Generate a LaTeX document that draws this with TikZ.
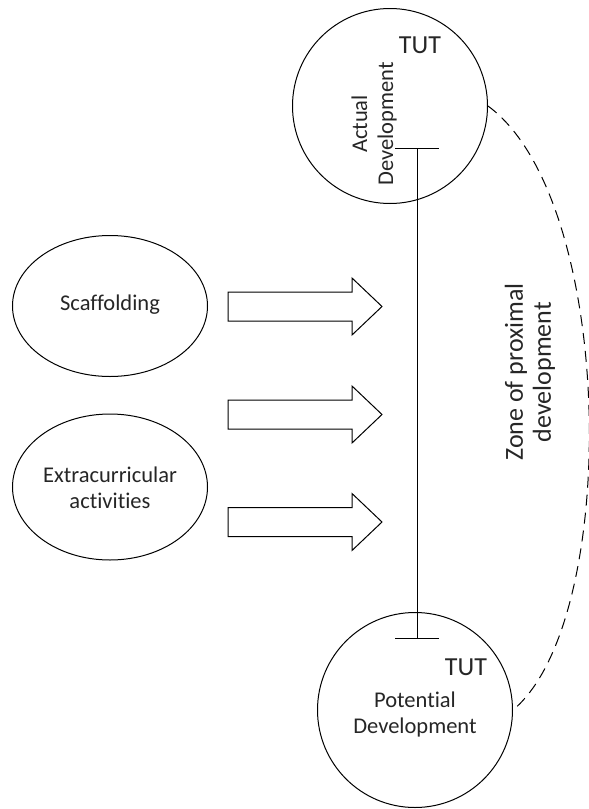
\documentclass[tikz,border=0pt]{standalone}
\usepackage{fontspec}
\setmainfont{Carlito}[Ligatures={NoCommon,NoRare}]
\usetikzlibrary{arrows.meta,shapes.geometric}
\tikzset{
  devcircle/.style={circle,draw,line width=1pt,inner sep=0pt,minimum size=195pt},
  sourceell/.style={ellipse,draw,line width=1pt,inner sep=0pt,minimum width=195pt},
  smalltext/.style={font=\fontsize{22.5}{26}\selectfont,align=center,text=black!85},
  bigtext/.style={font=\fontsize{26}{28}\selectfont,align=center,text=black!85},
  blockarrow/.pic={\draw[line width=1pt,line join=miter]
    (0,-14.5) -- (124,-14.5) -- (124,-28.5) -- (154,0) -- (124,28.5)
    -- (124,14.5) -- (0,14.5) -- cycle;}
}
\begin{document}
\begin{tikzpicture}[x=1pt,y=-1pt]
\useasboundingbox (0,0) rectangle (589,809);

% development levels
\node[devcircle] (actual) at (390,106) {};
\node[devcircle] (potential) at (415,710) {};
\node[smalltext,rotate=90] (actualtxt) at (374,124) {Actual\\Development};
\node[bigtext] (tut1) at (420,45) {TUT};
\node[smalltext] (potentialtxt) at (415,714) {Potential\\Development};
\node[bigtext] (tut2) at (466,667) {TUT};

% gap between the two levels
\coordinate (gaptop) at (417,148);
\coordinate (gapbot) at (417,639);
\draw[line width=1pt,{Bar[width=44pt,line width=1pt]}-{Bar[width=44pt,line width=1pt]}] (gaptop) -- (gapbot);

% zone of proximal development
\draw[line width=1pt,dash pattern=on 11pt off 7pt]
  (actual.east) .. controls (616,200) and (621,620) .. (potential.east);
\node[bigtext,rotate=90] (zpd) at (530,372) {Zone of proximal\\development};

% supports
\node[sourceell,minimum height=141pt] (scaff) at (110,306) {};
\node[smalltext] (scafftxt) at (110,305) {Scaffolding};
\node[sourceell,minimum height=146pt] (extra) at (110,487) {};
\node[smalltext] (extratxt) at (110,488) {Extracurricular\\activities};

% block arrows
\pic at (228,306.5) {blockarrow};
\pic at (228,414.5) {blockarrow};
\pic at (228,522) {blockarrow};
\end{tikzpicture}
\end{document}
